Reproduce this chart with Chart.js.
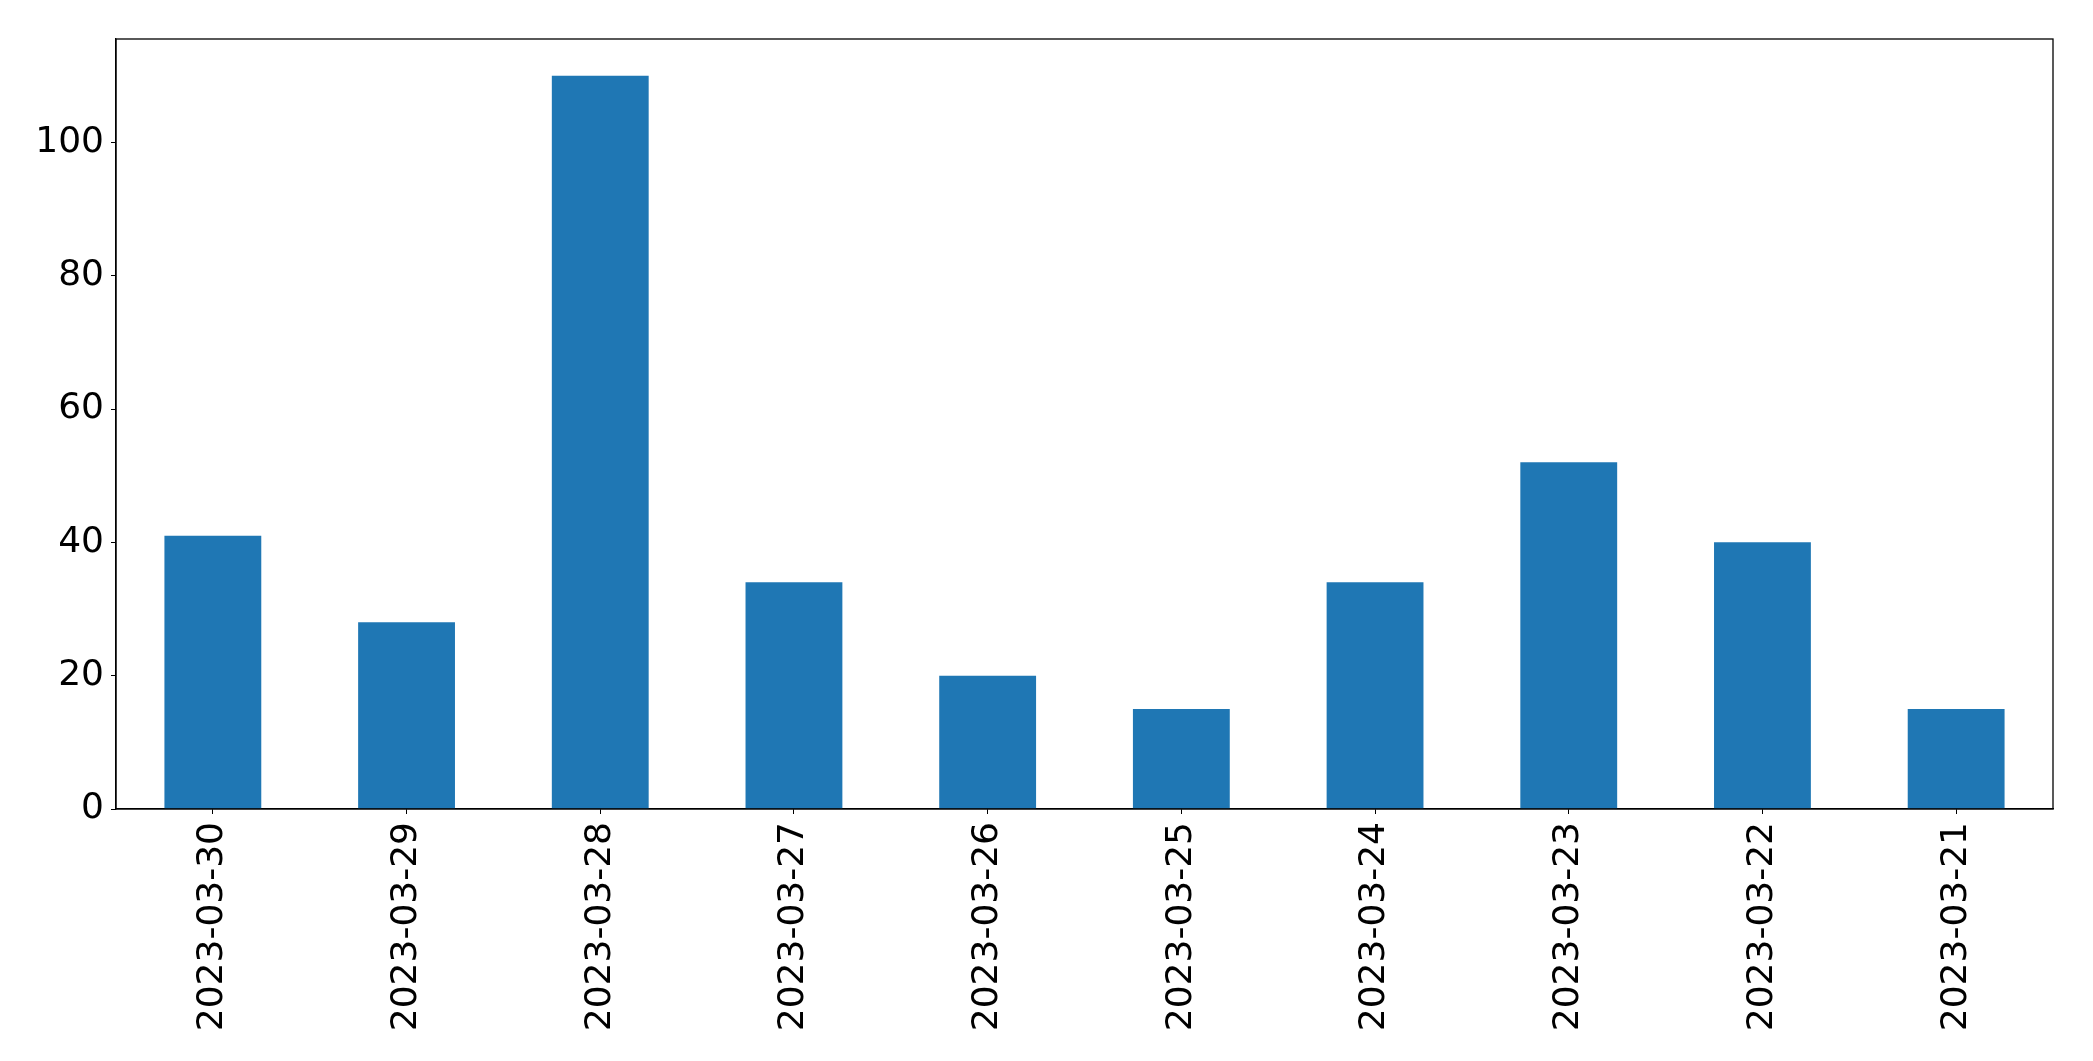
<!DOCTYPE html>
<html>
<head>
<meta charset="utf-8">
<script src="https://cdn.jsdelivr.net/npm/chart.js@4"></script>
<style>
    html, body { margin: 0; padding: 0; background: #fff; }
    #wrap { width: 2093px; height: 1061px; }
</style>
</head>
<body>
<div id="wrap"><canvas id="barChart" width="2093" height="1061"></canvas></div>
<script>
// ===== Daily counts bar chart =====

const dates = ['2023-03-30', '2023-03-29', '2023-03-28', '2023-03-27', '2023-03-26',
               '2023-03-25', '2023-03-24', '2023-03-23', '2023-03-22', '2023-03-21'];
const counts = [41, 28, 110, 34, 20, 15, 34, 52, 40, 15];
const yTicks = [0, 20, 40, 60, 80, 100];

// draws the top and right sides of the axes box
const frameBox = {
    id: 'frameBox',
    afterDraw(chart) {
        const { ctx, chartArea } = chart;
        ctx.save();
        ctx.strokeStyle = '#000';
        ctx.lineWidth = 1.3;
        ctx.strokeRect(chartArea.left, chartArea.top, chartArea.right - chartArea.left, chartArea.bottom - chartArea.top);
        ctx.restore();
    }
};

Chart.defaults.font.family = '"DejaVu Sans", sans-serif';
Chart.defaults.color = '#000';

new Chart(document.getElementById('barChart'), {
    type: 'bar',
    data: {
        labels: dates,
        datasets: [{
            data: counts,
            backgroundColor: '#1f77b4',
            categoryPercentage: 1.0,
            barPercentage: 0.5
        }]
    },
    options: {
        responsive: false,
        animation: false,
        layout: { padding: { top: 39, right: 40, left: 0, bottom: 0 } },
        plugins: { legend: { display: false }, tooltip: { enabled: false } },
        scales: {
            x: {
                grid: { drawOnChartArea: false, drawTicks: true, tickLength: 5, tickColor: '#000', offset: false },
                border: { display: true, color: '#000', width: 1.3 },
                ticks: { font: { size: 36 }, color: '#000', maxRotation: 90, minRotation: 90, padding: 8, autoSkip: false },
                afterFit(scale) { scale.height = 252; }
            },
            y: {
                min: 0,
                max: 115.5,
                afterBuildTicks(scale) { scale.ticks = yTicks.map(v => ({ value: v })); },
                grid: { drawOnChartArea: false, drawTicks: true, tickLength: 5, tickColor: '#000' },
                border: { display: true, color: '#000', width: 1.3 },
                ticks: { font: { size: 36 }, color: '#000', padding: 7 },
                afterFit(scale) { scale.width = 116; }
            }
        }
    },
    plugins: [frameBox]
});
</script>
</body>
</html>
